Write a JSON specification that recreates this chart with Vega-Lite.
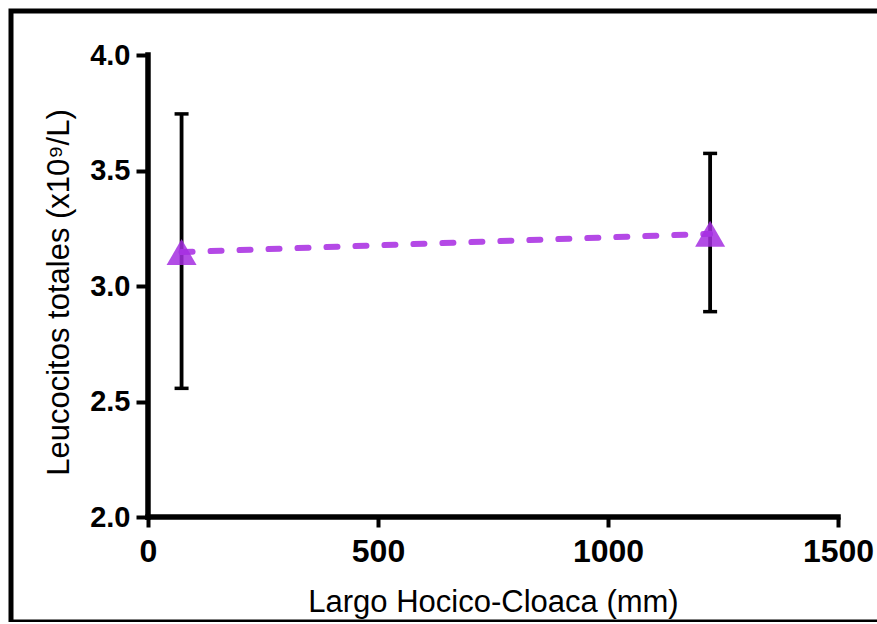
{
  "$schema": "https://vega.github.io/schema/vega-lite/v6.json",
  "width": 871,
  "height": 611,
  "autosize": {"type": "none"},
  "padding": {"left": 11, "top": 11, "right": 0, "bottom": 0},
  "background": "white",
  "config": {
    "view": {"stroke": "black", "strokeWidth": 5},
    "font": "Liberation Sans"
  },
  "datasets": {
    "pts": [
      {"x": 73, "mean": 3.147, "lo": 2.557, "hi": 3.745},
      {"x": 1222, "mean": 3.226, "lo": 2.889, "hi": 3.574}
    ],
    "axlines": [
      {"x": 0, "x2": 1500, "y": 2, "y2": 2},
      {"x": 0, "x2": 0, "y": 2, "y2": 4}
    ]
  },
  "resolve": {"axis": {"x": "independent", "y": "independent"}},
  "layer": [
    {
      "data": {"name": "axlines"},
      "mark": {"type": "rule", "strokeWidth": 5.5, "strokeCap": "square", "color": "black"},
      "encoding": {
        "x": {
          "field": "x", "type": "quantitative",
          "scale": {"domain": [-297.8, 1595.65], "nice": false, "zero": false},
          "axis": {
            "orient": "bottom", "offset": -105, "domain": false, "grid": false,
            "values": [0, 500, 1000, 1500], "format": "d",
            "tickSize": 10, "tickWidth": 4, "tickColor": "black",
            "labelFont": "Liberation Sans", "labelFontSize": 32, "labelFontWeight": "bold",
            "labelColor": "black", "labelPadding": 9, "labelFlush": false,
            "title": "Largo Hocico-Cloaca (mm)", "titleFont": "Liberation Sans",
            "titleFontSize": 31, "titleFontWeight": "normal", "titleColor": "black",
            "titleX": 482, "titleY": 94, "titleBaseline": "alphabetic", "titleAlign": "center"
          }
        },
        "x2": {"field": "x2"},
        "y": {
          "field": "y", "type": "quantitative",
          "scale": {"domain": [1.5455, 4.1905], "nice": false, "zero": false},
          "axis": {
            "orient": "left", "offset": -137, "domain": false, "grid": false,
            "values": [2, 2.5, 3, 3.5, 4], "format": ".1f",
            "tickSize": 12, "tickWidth": 4, "tickColor": "black",
            "labelFont": "Liberation Sans", "labelFontSize": 29, "labelFontWeight": "bold",
            "labelColor": "black", "labelPadding": 6, "labelFlush": false,
            "title": "Leucocitos totales (x10⁹/L)", "titleFont": "Liberation Sans",
            "titleFontSize": 31, "titleFontWeight": "normal", "titleColor": "black",
            "titleAngle": -90, "titleX": -80, "titleY": 281,
            "titleBaseline": "alphabetic", "titleAlign": "center"
          }
        },
        "y2": {"field": "y2"}
      }
    },
    {
      "data": {"name": "pts"},
      "mark": {"type": "rule", "strokeWidth": 3.8, "color": "black"},
      "encoding": {
        "x": {"field": "x", "type": "quantitative", "axis": null},
        "y": {"field": "lo", "type": "quantitative", "axis": null},
        "y2": {"field": "hi"}
      }
    },
    {
      "data": {"name": "pts"},
      "mark": {"type": "tick", "orient": "horizontal", "size": 14, "thickness": 3.5, "color": "black", "opacity": 1},
      "encoding": {
        "x": {"field": "x", "type": "quantitative", "axis": null},
        "y": {"field": "hi", "type": "quantitative", "axis": null}
      }
    },
    {
      "data": {"name": "pts"},
      "mark": {"type": "tick", "orient": "horizontal", "size": 14, "thickness": 3.5, "color": "black", "opacity": 1},
      "encoding": {
        "x": {"field": "x", "type": "quantitative", "axis": null},
        "y": {"field": "lo", "type": "quantitative", "axis": null}
      }
    },
    {
      "data": {"name": "pts"},
      "mark": {"type": "line", "color": "#b449e6", "strokeWidth": 6, "strokeDash": [11, 18], "strokeCap": "round"},
      "encoding": {
        "x": {"field": "x", "type": "quantitative", "axis": null},
        "y": {"field": "mean", "type": "quantitative", "axis": null}
      }
    },
    {
      "data": {"name": "pts"},
      "mark": {"type": "point", "shape": "triangle-up", "filled": true, "size": 900, "color": "#a52ee0", "opacity": 0.85},
      "encoding": {
        "x": {"field": "x", "type": "quantitative", "axis": null},
        "y": {"field": "mean", "type": "quantitative", "axis": null}
      }
    }
  ]
}
